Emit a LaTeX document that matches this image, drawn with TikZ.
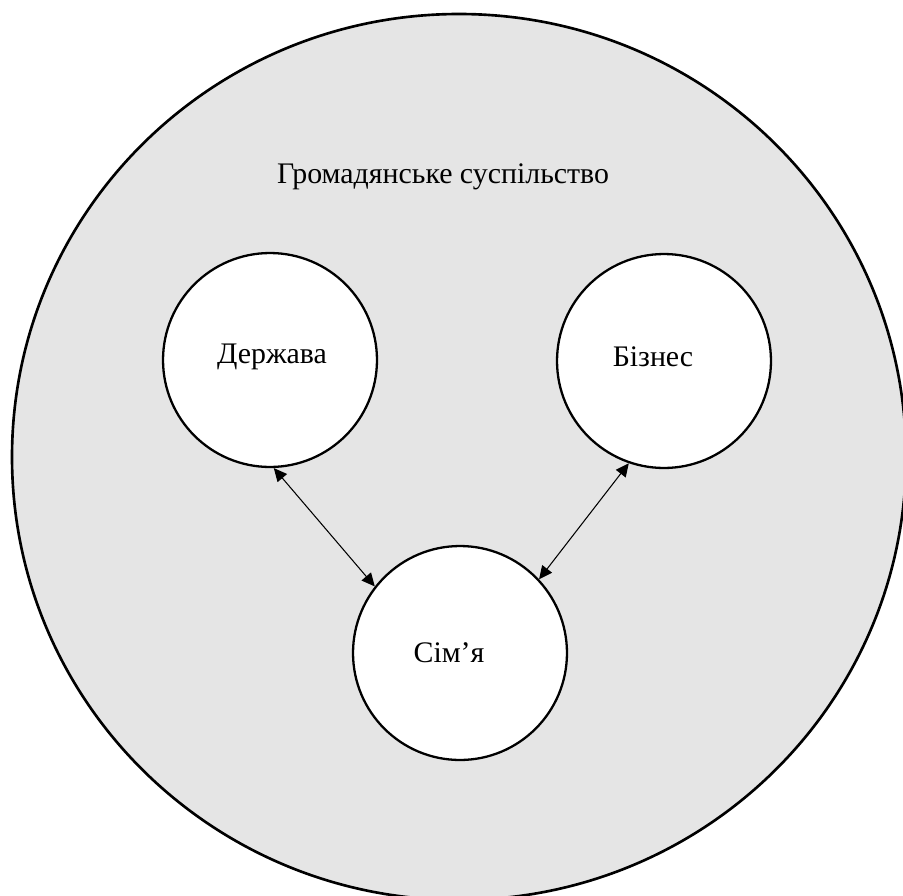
\documentclass[tikz,border=0pt]{standalone}
\usepackage{fontspec}
\setmainfont{Liberation Serif}
\usetikzlibrary{arrows.meta}

\definecolor{societygray}{HTML}{E5E5E5}

\tikzset{
  sphere/.style={circle, draw=black, line width=1.3pt, fill=white,
    minimum size=4.28cm, inner sep=0pt},
  caption/.style={font=\fontsize{17}{20}\selectfont, inner sep=0pt},
  link/.style={line width=0.6pt, {Triangle[length=7.5pt,width=7pt]}-{Triangle[length=7.5pt,width=7pt]}}
}

\begin{document}
\begin{tikzpicture}[x=0.02cm, y=-0.02cm]
  \useasboundingbox (0,0) rectangle (903,896);
  \clip (0,0) rectangle (903,896);

  % civil society: the enclosing disc
  \draw[fill=societygray, line width=1.5pt] (459,457) ellipse [x radius=447, y radius=443];
  \node[caption] (society) at (443,177) {Громадянське суспільство};

  % the three spheres
  \node[sphere] (state)  at (270,360) {};
  \node[sphere] (biz)    at (664,361) {};
  \node[sphere] (family) at (460,653) {};

  \node[caption] (stateT)  at (272,357) {Держава};
  \node[caption] (bizT)    at (653,357) {Бізнес};
  \node[caption] (familyT) at (449,653) {Сім’я};

  % two-way links
  \draw[link] (state.-88) -- (family.142);
  \draw[link] (biz.-109) -- (family.43);
\end{tikzpicture}
\end{document}
